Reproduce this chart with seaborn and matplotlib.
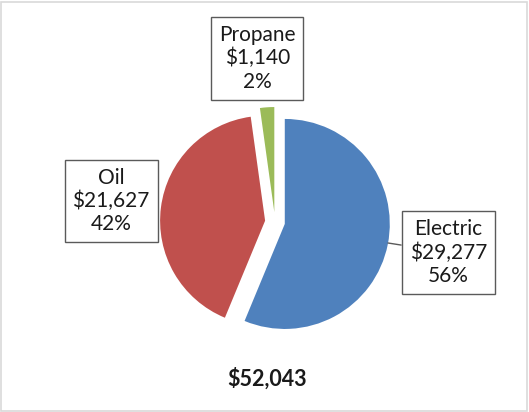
import numpy as np
import seaborn as sns
import matplotlib.pyplot as plt
from matplotlib.patches import Rectangle

sns.set_style("white")
plt.rcParams["font.family"] = ["Lato", "DejaVu Sans"]

# 데이터
categories = ["Electric", "Oil", "Propane"]
amounts = [29277, 21627, 1140]
percents = ["56%", "42%", "2%"]
total_label = "$52,043"
colors = ["#4F81BD", "#C0504D", "#9BBB59"]

fig = plt.figure(figsize=(5.29, 4.12), dpi=100)
ax = fig.add_axes([0, 0, 1, 1])

wedges, _ = ax.pie(
    amounts,
    colors=colors,
    startangle=90,
    counterclock=False,
    explode=[0.095, 0.095, 0.095],
    radius=1.0,
    wedgeprops=dict(linewidth=0),
)

# 1 unit = 105 px, 파이 중심 (275, 222) px
ax.set_xlim(-275 / 105, (529 - 275) / 105)
ax.set_ylim(-(412 - 222) / 105, 222 / 105)
ax.set_aspect("auto")
ax.axis("off")

box = dict(boxstyle="square,pad=0.38", fc="white", ec="#5a5a5a", lw=1.0)
label_pos = {"Electric": (1.65, -0.29), "Oil": (-1.56, 0.20), "Propane": (-0.17, 1.56)}
fs = 15

for w, cat, amt, pct in zip(wedges, categories, amounts, percents):
    txt = f"{cat}\n${amt:,}\n{pct}"
    tx, ty = label_pos[cat]
    if cat == "Electric":
        # 리더 라인: 박스 왼쪽에서 조각 가장자리로
        cx, cy = w.center
        y0 = -0.2
        ang = np.arcsin((y0 - cy) / w.r)
        ax.annotate(txt, xy=(cx + w.r * np.cos(ang), y0), xytext=(tx, ty),
                    ha="center", va="center", fontsize=fs, color="#1a1a1a",
                    linespacing=1.2, bbox=box,
                    arrowprops=dict(arrowstyle="-", color="#5a5a5a", lw=1.0,
                                    shrinkA=0, shrinkB=0))
    else:
        ax.text(tx, ty, txt, ha="center", va="center", fontsize=fs,
                color="#1a1a1a", linespacing=1.2, bbox=box)

ax.text(-0.08, -1.49, total_label, ha="center", va="center",
        fontsize=15.5, fontweight="bold", color="#1a1a1a")

fig.patches.append(Rectangle((0.002, 0.002), 0.995, 0.993, transform=fig.transFigure,
                             fill=False, ec="#d9d9d9", lw=1.2))

plt.savefig("out.png", dpi=100)
